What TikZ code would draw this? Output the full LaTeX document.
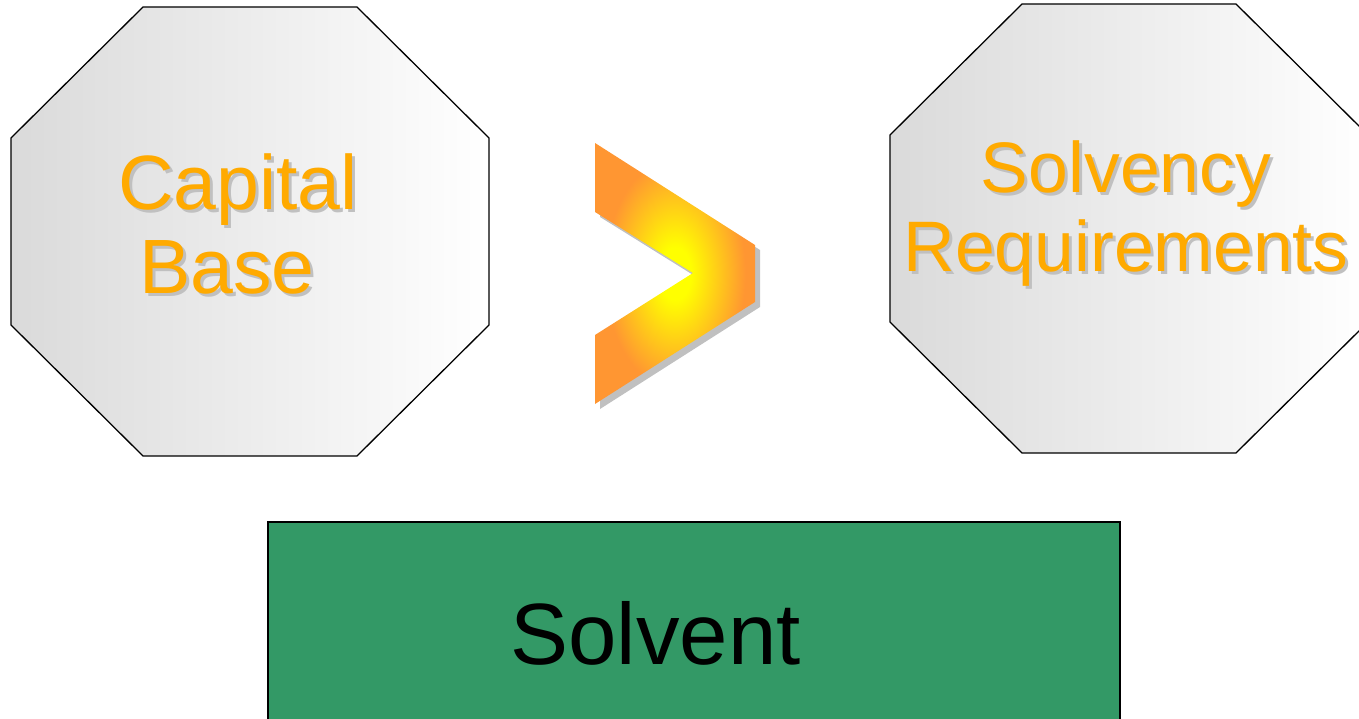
\documentclass[tikz,border=0pt]{standalone}
\usepackage{fontspec}
\setmainfont{Liberation Sans}
\usetikzlibrary{calc}
\definecolor{lblorange}{RGB}{255,170,0}
\definecolor{chevorange}{RGB}{255,150,50}
\definecolor{solvgreen}{RGB}{51,153,102}
\definecolor{octgray}{RGB}{218,218,218}
\definecolor{shadowgray}{RGB}{192,192,192}
\pgfdeclareradialshading{chevglow}{\pgfpoint{0bp}{0bp}}{color(0bp)=(yellow); color(5bp)=(yellow); color(22bp)=(chevorange); color(50bp)=(chevorange)}

\begin{document}
\begin{tikzpicture}[x=1pt,y=-1pt,
    octagon/.style={draw=black, line width=1.3pt, left color=octgray, right color=white},
    lbl/.style={anchor=base, inner sep=0pt, text=lblorange},
    lblshadow/.style={anchor=base, inner sep=0pt, text=shadowgray}]
    \useasboundingbox (0,0) rectangle (1359,719);
    \clip (0,0) rectangle (1359,719);
    \begin{scope}[local bounding box=octleft]
	\draw[octagon] (143,7) -- (357,7) -- (489,138) -- (489,325) -- (357,456) -- (143,456) -- (11,325) -- (11,138) -- cycle;
	\foreach \x/\y/\name/\txt in {238/210/capital/Capital,227/293/base/Base}
	{
	\node[lblshadow, font=\fontsize{77}{77}\selectfont] at (\x+3,\y+3) {\txt};
	\node[lbl, font=\fontsize{77}{77}\selectfont] (\name) at (\x,\y) {\txt};
	}
    \end{scope}
    \begin{scope}[local bounding box=octright]
	\draw[octagon] (1022,4) -- (1236,4) -- (1368,135) -- (1368,322) -- (1236,453) -- (1022,453) -- (890,322) -- (890,135) -- cycle;
	\foreach \x/\y/\name/\txt in {1126/193/solvency/Solvency,1126/272/requirements/Requirements}
	{
	\node[lblshadow, font=\fontsize{71.5}{71.5}\selectfont] at (\x+3,\y+3) {\txt};
	\node[lbl, font=\fontsize{71.5}{71.5}\selectfont] (\name) at (\x,\y) {\txt};
	}
    \end{scope}
    \begin{scope}[local bounding box=chevron]
	\fill[shadowgray] (600,148) -- (760,250) -- (760,307) -- (600,409) -- (600,340) -- (698,278) -- (600,217) -- cycle;
	\shade[shading=chevglow] (595,143) -- (755,245) -- (755,302) -- (595,404) -- (595,335) -- (693,273) -- (595,212) -- cycle;
    \end{scope}
    \draw[line width=1.8pt, fill=solvgreen] (268,522) rectangle (1120,735);
    \node[anchor=base, inner sep=0pt, font=\fontsize{87}{87}\selectfont] (solvent) at (655.5,664) {Solvent};
\end{tikzpicture}
\end{document}
